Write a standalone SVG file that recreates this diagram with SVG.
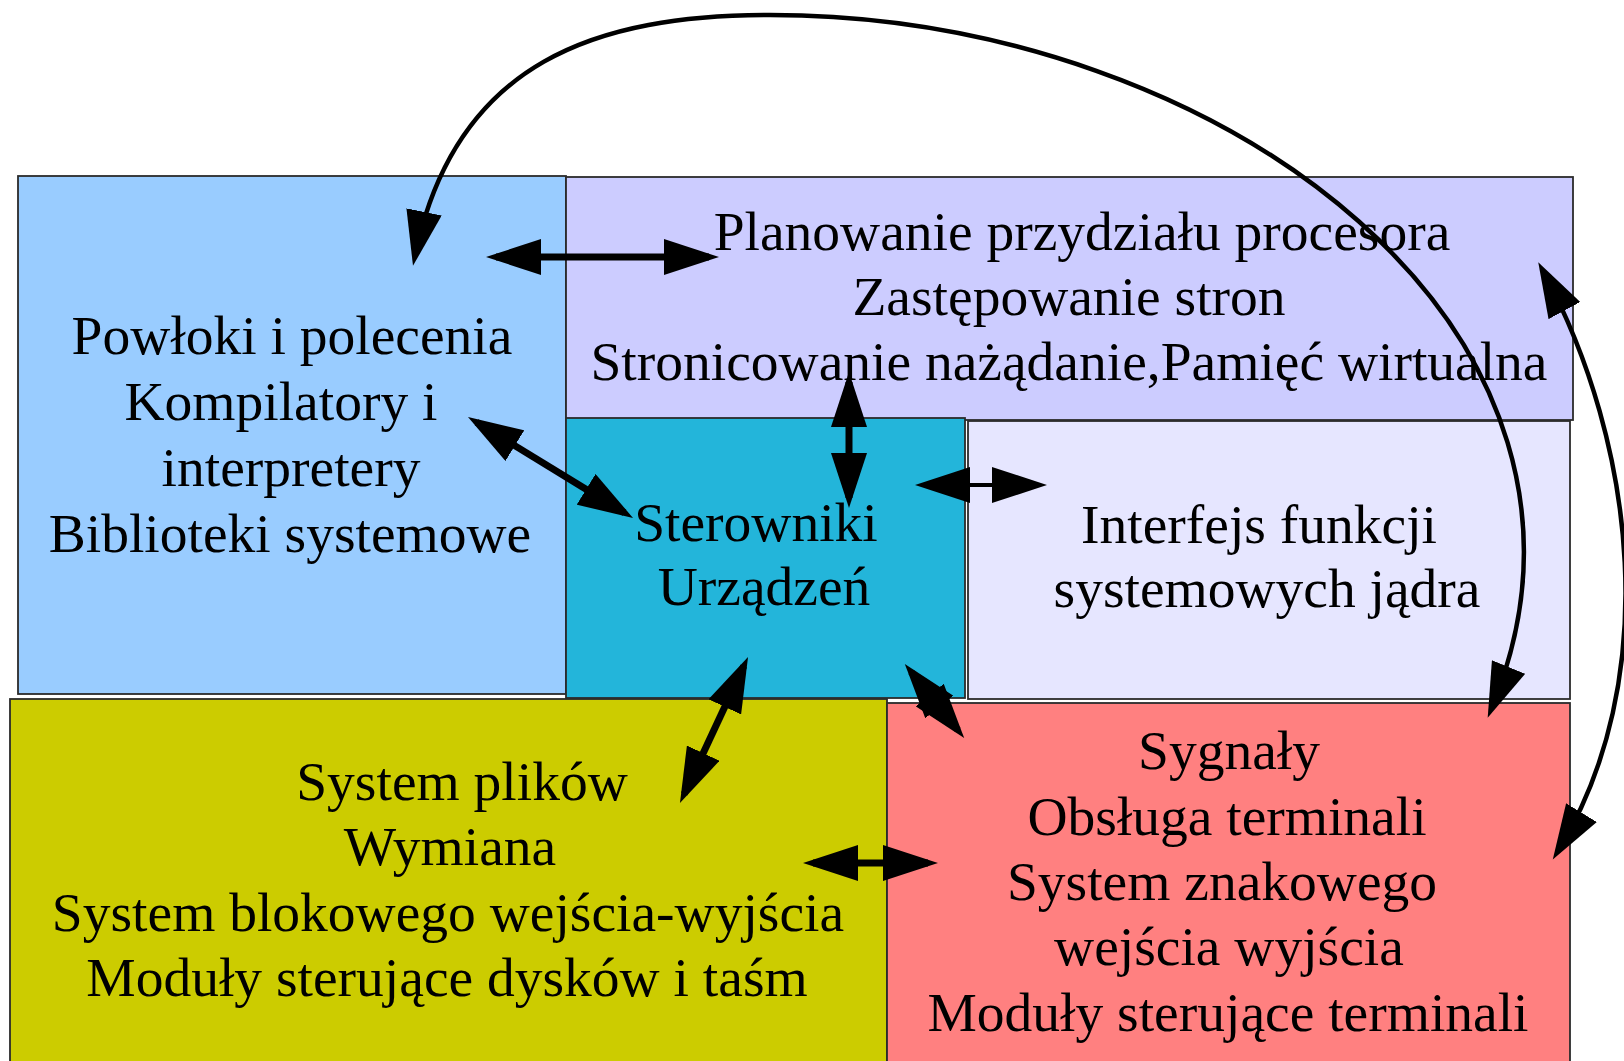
<svg xmlns="http://www.w3.org/2000/svg" width="1624" height="1061" viewBox="0 0 1624 1061">
  <style>
    .box { stroke: #2b2b2b; stroke-width: 1.8; }
    .lbl { font-family: "Liberation Serif", "Times New Roman", serif; font-size: 55.5px; fill: #000; text-anchor: middle; }
    .link { fill: none; stroke: #000; stroke-width: 7; }
    .thin { stroke-width: 4; }
    .arc { fill: none; stroke: #000; stroke-width: 4.5; }
  </style>
  <defs>
    <!-- filled arrowhead; the line stops 10px short of the tip -->
    <marker id="head" markerUnits="userSpaceOnUse" viewBox="0 0 56 36" markerWidth="56" markerHeight="36" refX="45" refY="18" orient="auto-start-reverse">
      <path d="M0,0 L55,18 L0,36 z" fill="#000"/>
    </marker>
  </defs>

  <rect width="1624" height="1061" fill="#fff"/>

  <g id="node-shell">
    <rect class="box" x="18" y="176" width="548" height="518" fill="#99ccff"/>
    <text class="lbl" x="292" y="354">Powłoki i polecenia</text>
    <text class="lbl" x="281" y="420">Kompilatory i</text>
    <text class="lbl" x="291" y="486">interpretery</text>
    <text class="lbl" x="290" y="552">Biblioteki systemowe</text>
  </g>

  <g id="node-scheduler">
    <rect class="box" x="566" y="177" width="1007" height="243" fill="#ccccff"/>
    <text class="lbl" x="1082" y="250">Planowanie przydziału procesora</text>
    <text class="lbl" x="1069" y="315">Zastępowanie stron</text>
    <text class="lbl" x="1069" y="380">Stronicowanie nażądanie,Pamięć wirtualna</text>
  </g>

  <g id="node-syscalls">
    <rect class="box" x="968" y="421" width="602" height="278" fill="#e6e6ff"/>
    <text class="lbl" x="1259" y="543">Interfejs funkcji</text>
    <text class="lbl" x="1267" y="607">systemowych jądra</text>
  </g>

  <g id="node-drivers">
    <rect class="box" x="566" y="418" width="399" height="280" fill="#23b5da"/>
    <text class="lbl" x="756" y="541">Sterowniki</text>
    <text class="lbl" x="764" y="605">Urządzeń</text>
  </g>

  <g id="node-filesystem">
    <rect class="box" x="10" y="699" width="877" height="370" fill="#cccc00"/>
    <text class="lbl" x="462" y="800">System plików</text>
    <text class="lbl" x="450" y="865">Wymiana</text>
    <text class="lbl" x="448" y="931">System blokowego wejścia-wyjścia</text>
    <text class="lbl" x="447" y="996">Moduły sterujące dysków i taśm</text>
  </g>

  <g id="node-terminals">
    <rect class="box" x="887" y="703" width="683" height="366" fill="#ff8080"/>
    <text class="lbl" x="1229" y="769">Sygnały</text>
    <text class="lbl" x="1227" y="835">Obsługa terminali</text>
    <text class="lbl" x="1222" y="900">System znakowego</text>
    <text class="lbl" x="1229" y="965">wejścia wyjścia</text>
    <text class="lbl" x="1228" y="1031">Moduły sterujące terminali</text>
  </g>

  <g id="connectors">
    <path class="link" d="M496 257 L709 257" marker-start="url(#head)" marker-end="url(#head)"/>
    <path class="link" d="M476.5 422.2 L624.5 512.8" marker-start="url(#head)" marker-end="url(#head)"/>
    <path class="link" d="M849 382 L849 498" marker-start="url(#head)" marker-end="url(#head)"/>
    <path class="link thin" d="M925 485 L1037 485" marker-start="url(#head)" marker-end="url(#head)"/>
    <path class="link" d="M743.8 666.1 L684.2 793.9" marker-start="url(#head)" marker-end="url(#head)"/>
    <path class="link" d="M911.1 671.9 L957.9 730.1" marker-start="url(#head)" marker-end="url(#head)"/>
    <path class="link" d="M813 863 L928 863" marker-start="url(#head)" marker-end="url(#head)"/>
    <!-- long arc over the top: shell to terminals -->
    <path class="arc" d="M415 256 C455.5 59 600 15 770 15 C1225 15 1645 334.6 1491.5 708.6" marker-start="url(#head)" marker-end="url(#head)"/>
    <!-- right-hand arc: scheduler to terminals -->
    <path class="arc" d="M1543 271 C1637 445 1662 681 1558 851" marker-start="url(#head)" marker-end="url(#head)"/>
  </g>
</svg>
